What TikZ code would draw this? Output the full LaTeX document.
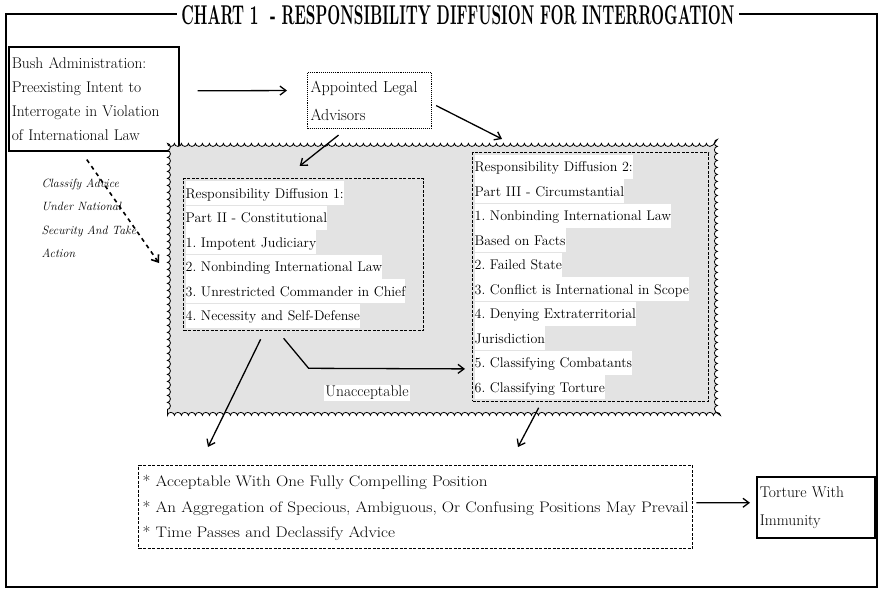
\documentclass[tikz,border=0pt]{standalone}
\usepackage{graphicx}
\usetikzlibrary{arrows.meta,decorations.pathmorphing}

\setlength{\fboxsep}{0pt}
\frenchspacing
% one text line on a white strip
\newcommand{\wl}[1]{\colorbox{white}{\rule[-7pt]{0pt}{24pt}#1}}

\tikzset{
  arr/.style={-{Straight Barb[length=6pt,width=9pt]}, line width=1.3pt},
  plainbox/.style={draw, line width=1.6pt, align=left, anchor=north west, inner sep=3pt, font=\fontsize{15.5}{24}\selectfont},
  dotbox/.style={plainbox, line width=1.1pt, densely dotted, font=\fontsize{16}{28}\selectfont},
  dashbox/.style={draw, line width=1.3pt, dash pattern=on 3pt off 1.5pt, align=left, anchor=north west, inner sep=2pt, font=\fontsize{14}{24.5}\selectfont},
  scallop/.style={draw, line width=0.8pt, fill=gray!22, decorate, decoration={bumps, segment length=14pt, amplitude=3pt}, anchor=north west}
}

\begin{document}
\begin{tikzpicture}[x=1pt,y=-1pt]
\useasboundingbox (0,0) rectangle (881,591);

% Cornice e titolo
\draw[line width=2.2pt] (6,14) rectangle (877,587);
\node[fill=white, inner xsep=4pt, inner ysep=1pt] (title) at (458,15) {\resizebox{553pt}{19pt}{\bfseries CHART 1\ \ - RESPONSIBILITY DIFFUSION FOR INTERROGATION}};

% Riquadri in alto
\node[plainbox, text width=164pt, minimum height=104pt] (bush) at (8,46) {Bush Administration:\\ Preexisting Intent to\\ Interrogate in Violation\\ of International Law};
\node[dotbox, text width=118pt, minimum height=56pt] (advisors) at (307,72) {Appointed Legal\\ Advisors};

% Zona a festoni
\node[scallop, minimum width=550pt, minimum height=272pt] (region) at (167,143) {};

\node[dashbox, text width=236pt, minimum height=152pt] (diffA) at (183,178) {\wl{Responsibility Diffusion 1:}\\ \wl{Part II - Constitutional}\\ \wl{1. Impotent Judiciary}\\ \wl{2. Nonbinding International Law}\\ \wl{3. Unrestricted Commander in Chief}\\ \wl{4. Necessity and Self-Defense}};
\node[dashbox, text width=232pt, minimum height=246pt] (diffB) at (472,152) {\wl{Responsibility Diffusion 2:}\\ \wl{Part III - Circumstantial}\\ \wl{1. Nonbinding International Law}\\ \wl{Based on Facts}\\ \wl{2. Failed State}\\ \wl{3. Conflict is International in Scope}\\ \wl{4. Denying Extraterritorial}\\ \wl{Jurisdiction}\\ \wl{5. Classifying Combatants}\\ \wl{6. Classifying Torture}};
\node[fill=white, inner sep=1pt, font=\fontsize{15.5}{18}\selectfont] (unacc) at (367,393) {Unacceptable};

% Nota a sinistra
\node[font=\fontsize{12}{23.5}\selectfont\itshape, align=left, anchor=north west] (note) at (38,175) {Classify Advice\\ Under National\\ Security And Take\\ Action};
\coordinate (noteend) at (159,263);

% Riquadri in basso
\node[draw, line width=1.3pt, dash pattern=on 3pt off 1.5pt, anchor=north west, inner sep=3pt, minimum width=554pt, minimum height=83pt] (actions) at (138,465) {\resizebox*{546pt}{76pt}{\fontsize{15}{25}\selectfont\begin{tabular}{@{}l@{}}{*} Acceptable With One Fully Compelling Position\\ {*} An Aggregation of Specious, Ambiguous, Or Confusing Positions May Prevail\\ {*} Time Passes and Declassify Advice\end{tabular}}};
\node[plainbox, text width=112pt, minimum height=61pt, font=\fontsize{15.5}{28}\selectfont] (torture) at (756,476) {Torture With\\ Immunity};

% Frecce
\draw[arr] ([xshift=18pt,yshift=8pt]bush.east) -- ([xshift=-20pt,yshift=10pt]advisors.west);
\draw[arr] ([xshift=-31pt,yshift=-6pt]advisors.south) -- ([xshift=-4pt,yshift=12pt]diffA.north);
\draw[arr] ([xshift=4pt,yshift=-5pt]advisors.east) -- ([xshift=30pt,yshift=13pt]diffB.north west);
\draw[arr, line width=1.6pt, dash pattern=on 4pt off 4pt] ([xshift=-7pt,yshift=-8pt]bush.south) -- (noteend);
\draw[arr] ([xshift=-43pt,yshift=-8pt]diffA.south) -- ([xshift=70pt,yshift=18pt]actions.north west);
\draw[arr] ([xshift=-20pt,yshift=-7pt]diffA.south) -- ++(25,30) -- ([xshift=-7pt,yshift=-92pt]diffB.west);
\draw[arr] ([xshift=-52pt,yshift=-6pt]diffB.south) -- ([xshift=380pt,yshift=18pt]actions.north west);
\draw[arr] ([xshift=3pt,yshift=4.5pt]actions.east) -- ([xshift=-6pt,yshift=4.5pt]torture.west);
\end{tikzpicture}
\end{document}
